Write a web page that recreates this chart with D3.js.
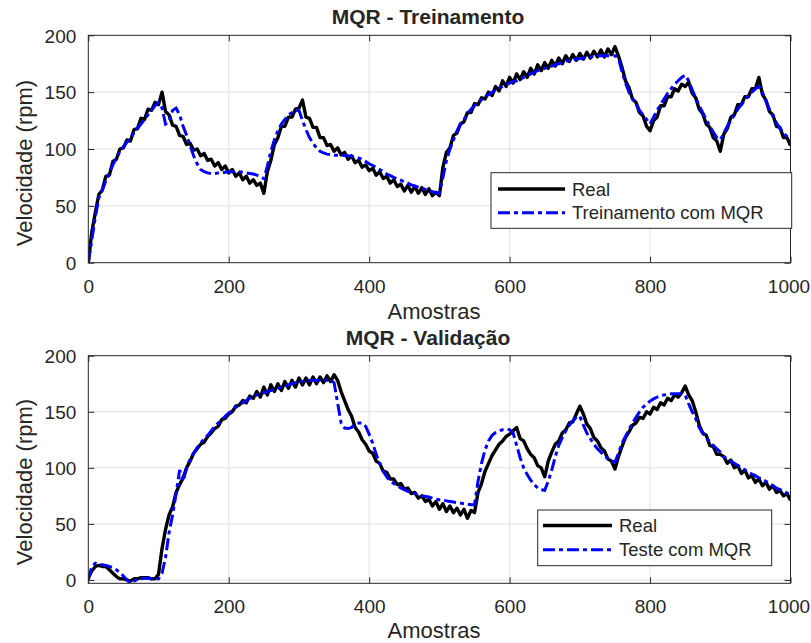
<!DOCTYPE html>
<html><head><meta charset="utf-8">
<script src="https://cdn.jsdelivr.net/npm/d3@7"></script>
<style>
body{margin:0;background:#fff}
svg text{font-family:"Liberation Sans",Arial,Helvetica,sans-serif;fill:#262626}
</style>
</head><body><svg id="c" width="811" height="643"></svg>
<script>
// sample index axis (step 5)
const samples = d3.range(0, 1001, 5);

const trainReal = [
0,27,44,60,64,76,77,89,91,100,101,108,107,117,118,127,126,135,134,141,
139,150,133,130,121,120,112,111,104,105,99,100,94,96,90,91,85,88,82,85,
79,82,76,79,73,76,70,73,68,70,61,80,90,104,110,120,120,128,128,135,
136,143,128,127,119,119,110,110,103,104,98,101,95,97,91,94,88,90,84,86,
81,83,77,80,74,76,70,73,67,69,63,68,62,67,61,66,60,65,59,62,
59,84,97,101,112,114,122,124,132,132,140,139,145,144,150,147,155,151,160,155,
163,158,166,161,168,163,171,166,174,169,176,171,178,173,180,175,182,177,183,178,
184,179,185,180,186,181,187,181,188,183,190,182,172,160,154,144,141,132,129,120,
116,125,128,138,138,146,146,153,151,157,155,159,149,145,135,131,122,119,110,107,
98,113,118,128,130,139,139,146,146,153,153,163,148,143,133,130,120,119,110,110,
103];

const trainModel = [
0,20,40,57,64,72,79,86,92,98,102,106,110,114,118,122,126,130,134,138,
141,136,122,124,134,136,130,120,112,103,94,87,82,80,79,78.5,78.5,79,79,79.5,
80,80,80,80,79.5,79,78.5,78,77,75.5,74,85,98,108,116,122,126,130,132,133.5,
134,125,117,110,105,101,98,96.5,95.5,95,94.5,94.5,94.5,94.3,94,93.5,93,92,91,89,
87,85.5,84,82,80,78,76.5,75,73.5,72.5,71,70,68.5,67.5,66.5,65.5,64.5,63.5,62.5,61.5,
61,75,90,100,108,116,122,126,131,135,138,141,143.5,146,148,150,152,153.5,155,156.5,
158,159,160,161.5,163,164.5,166,167.5,169,170,171,172,173,174,175,176,177,178,178.5,179,
179.5,180,180.5,181,181.5,182,182,182,182,182,182,180,168,158,150,144,140,134,130,126,
122,128,134,139,144,149,153,157,160,163,165,160,152,145,138,132,126,120,115,110,
108,114,120,125,130,135,139,143,147,150,153,155,150,142,135,129,123,118,114,111,
108];

const testReal = [
2,8,12,13,12,12,9,6,3,1,1,0,-1,1,1,2,2,2,1,1,
5,28,45,58,65,78,85,91,100,106,113,117,121,123,128,131,135,137,143,144,
148,150,155,156,160,158,164,162,168,163,172,165,174,168,175,169,177,171,178,172,
180,174,180,174,181,175,181,176,182,177,183,178,168,160,152,146,136,132,125,121,
115,113,106,104,97,96,90,90,85,86,81,82,77,78,73,75,70,72,66,70,
63,68,61,66,60,64,58,63,55,62,60,78,86,97,104,111,116,121,124,128,
130,133,136,126,124,117,112,109,102,100,92,106,114,121,124,131,134,140,141,148,
155,148,139,135,127,124,118,115,108,106,99,110,119,127,132,138,140,145,144,150,
148,154,152,158,156,162,160,165,163,167,173,165,160,150,138,131,129,120,119,112,
112,110,104,107,100,102,95,98,91,93,87,90,84,87,81,84,78,80,75,77,
71];

const testModel = [
0,12,15,14,13.5,13,12,11,9,6.5,3.5,0,-3,-1,0.5,1,1.5,1.5,1,0.5,
1,6,20,42,58,77,98,88,100,108,113,118,122,126,129,133,137,140,143,146,
149,151,154,156,158,160,162,163.5,165,166,167,168,169,170,171,172,173,174,175,176,
176.5,177,177.5,178,178,178,178,178,178,178,176,158,140,135.5,135,136,139,140,140,137,
130,122,112,104,97,92,88,86,84,82,80.5,79,78,77,76,75,74.5,74,73,72,
71.5,71,70.5,70,69.5,69,68.5,68,67.5,67,67,88,104,116,124,129,131.5,133,134,134.5,
134,131,120,109,100,94,89,85,82,80.5,80,88,98,110,120,127,133,138,142,145,
146,138,131,126,121,117,114,111,108,106,105,113,122,128,134,140,145,150,154,157,
159.5,161.5,163,164,165,165.5,166,166,166,166,165,157,150,144,136,131,127,123,120,117,
114,110,108,106,104,102,100,98,96,94.5,93,91,89.5,88,86,84,82,80.5,79,77.5,
76];

const xTicks = [0, 200, 400, 600, 800, 1000];
const yTicks = [0, 50, 100, 150, 200];
const titles = ["MQR - Treinamento", "MQR - Validação"];
const xLabel = "Amostras";
const yLabel = "Velocidade (rpm)";
const legendTop = ["Real", "Treinamento com MQR"];
const legendBottom = ["Real", "Teste com MQR"];

const svg = d3.select("#c");
const AX = "#262626";

function panel(o) {
  const x = d3.scaleLinear().domain([0, 1000]).range([o.left, o.right]);
  const y = d3.scaleLinear().domain([o.ymin, 200]).range([o.bottom, o.top]);
  const g = svg.append("g");
  g.append("rect").attr("x", o.left).attr("y", o.top)
    .attr("width", o.right - o.left).attr("height", o.bottom - o.top).attr("fill", "#fff");
  // grid
  g.append("g").selectAll("line").data(xTicks.slice(1, -1)).join("line")
    .attr("x1", d => x(d)).attr("x2", d => x(d)).attr("y1", o.top).attr("y2", o.bottom)
    .attr("stroke", "#e1e1e1").attr("stroke-width", 1);
  g.append("g").selectAll("line").data(yTicks.filter(d => y(d) < o.bottom - 1 && y(d) > o.top + 1)).join("line")
    .attr("x1", o.left).attr("x2", o.right).attr("y1", d => y(d)).attr("y2", d => y(d))
    .attr("stroke", "#e1e1e1").attr("stroke-width", 1);
  const clipId = "clip" + o.id;
  svg.append("clipPath").attr("id", clipId).append("rect")
    .attr("x", o.left).attr("y", o.top).attr("width", o.right - o.left).attr("height", o.bottom - o.top);
  const line = arr => d3.line().x((d, i) => x(samples[i])).y(d => y(d))(arr);
  g.append("path").attr("d", line(o.real)).attr("fill", "none").attr("stroke", "#000")
    .attr("stroke-width", 3.4).attr("stroke-linejoin", "round").attr("clip-path", `url(#${clipId})`);
  g.append("path").attr("d", line(o.model)).attr("fill", "none").attr("stroke", "#0000ff")
    .attr("stroke-width", 3).attr("stroke-dasharray", "12,4,4,4").attr("clip-path", `url(#${clipId})`);
  // axes via d3 axis (inner ticks)
  const tk = 6;
  const ax = d3.axisBottom(x).tickValues(xTicks).tickSize(-tk).tickPadding(12).tickFormat(d3.format("d"));
  const axT = d3.axisTop(x).tickValues(xTicks).tickSize(-tk).tickFormat("");
  const ay = d3.axisLeft(y).tickValues(yTicks).tickSize(-tk).tickPadding(12).tickFormat(d3.format("d"));
  const ayR = d3.axisRight(y).tickValues(yTicks).tickSize(-tk).tickFormat("");
  const gx = g.append("g").attr("transform", `translate(0,${o.bottom})`).call(ax);
  const gxt = g.append("g").attr("transform", `translate(0,${o.top})`).call(axT);
  const gy = g.append("g").attr("transform", `translate(${o.left},0)`).call(ay);
  const gyr = g.append("g").attr("transform", `translate(${o.right},0)`).call(ayR);
  [gx, gxt, gy, gyr].forEach(s => {
    s.select(".domain").remove();
    s.selectAll("line").attr("stroke", AX).attr("stroke-width", 1);
    s.selectAll("text").style("font-size", "19px").attr("fill", AX);
  });
  gx.selectAll("text").attr("dy", null).attr("y", o.xtickBase - o.bottom)
    .attr("x", d => d === 1000 ? -2 : 0);
  gy.selectAll("text").attr("dy", "0.36em");
  g.append("rect").attr("x", o.left).attr("y", o.top)
    .attr("width", o.right - o.left).attr("height", o.bottom - o.top)
    .attr("fill", "none").attr("stroke", AX).attr("stroke-width", 1);
  // title & labels
  g.append("text").attr("x", o.titleX).attr("y", o.titleY).attr("text-anchor", "middle")
    .style("font-size", "21px").style("font-weight", "bold").text(o.title);
  g.append("text").attr("x", o.xlabX).attr("y", o.xlabY).attr("text-anchor", "middle")
    .style("font-size", "22px").text(xLabel);
  g.append("text").attr("transform", `translate(${o.ylabX},${o.ylabY}) rotate(-90)`)
    .attr("text-anchor", "middle").style("font-size", "22px").text(yLabel);
  // legend
  const L = o.legend;
  const lg = g.append("g");
  lg.append("rect").attr("x", L.x).attr("y", L.y).attr("width", L.w).attr("height", L.h)
    .attr("fill", "#fff").attr("stroke", AX).attr("stroke-width", 1);
  const styles = [{c: "#000", dash: null, w: 3.4}, {c: "#0000ff", dash: "12,4,4,4", w: 3}];
  L.labels.forEach((t, i) => {
    lg.append("line").attr("x1", L.lx0).attr("x2", L.lx1).attr("y1", L.rows[i]).attr("y2", L.rows[i])
      .attr("stroke", styles[i].c).attr("stroke-width", styles[i].w).attr("stroke-dasharray", styles[i].dash);
    lg.append("text").attr("x", L.tx).attr("y", L.rows[i]).attr("dy", "0.36em")
      .style("font-size", "18.5px").text(t);
  });
}

panel({id: 1, left: 88.3, right: 790.5, top: 35.3, bottom: 262.7, ymin: 0,
  real: trainReal, model: trainModel, title: titles[0], titleX: 428, titleY: 24,
  xtickBase: 293, xlabX: 434, xlabY: 319, ylabX: 31.5, ylabY: 163,
  legend: {x: 491, y: 172.7, w: 300.7, h: 55.6, lx0: 498, lx1: 565, tx: 572, rows: [189, 212.7], labels: legendTop}});

panel({id: 2, left: 88.3, right: 790.5, top: 355.7, bottom: 583.3, ymin: -3,
  real: testReal, model: testModel, title: titles[1], titleX: 428, titleY: 345,
  xtickBase: 613, xlabX: 434, xlabY: 638, ylabX: 31.5, ylabY: 482,
  legend: {x: 537.7, y: 510, w: 234, h: 55.7, lx0: 543, lx1: 612, tx: 619, rows: [525.5, 549.7], labels: legendBottom}});
</script>
</body></html>
